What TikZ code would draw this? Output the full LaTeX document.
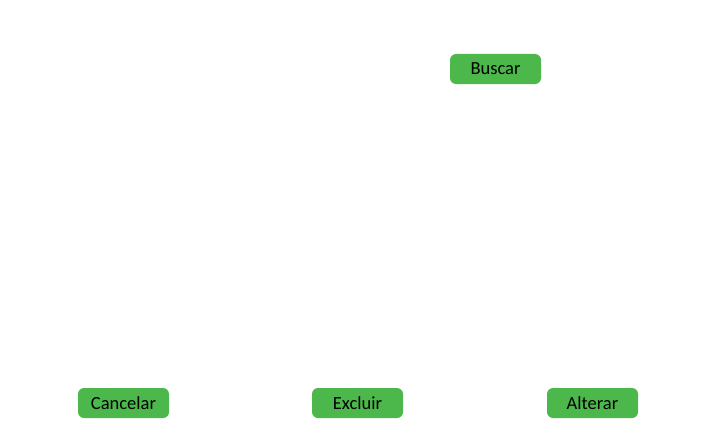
\documentclass[tikz,border=0pt]{standalone}
\usepackage{fontspec}
\setmainfont{Carlito}
\definecolor{btngreen}{HTML}{4CB84C}
\tikzset{
  btn/.style={fill=btngreen, rounded corners=6pt, minimum width=91pt, minimum height=30pt,
    inner sep=0pt, font=\fontsize{18.5}{20}\selectfont, text=black}
}
\begin{document}
\begin{tikzpicture}[x=1pt,y=-1pt]
  \useasboundingbox (0,0) rectangle (703,436);

  \node[btn] (buscar) at (495.5,69) {Buscar};

  \node[btn] (cancelar) at (123.5,403) {Cancelar};
  \node[btn] (excluir) at (357.5,403) {Excluir};
  \node[btn] (alterar) at (592.5,403) {Alterar};
\end{tikzpicture}
\end{document}
